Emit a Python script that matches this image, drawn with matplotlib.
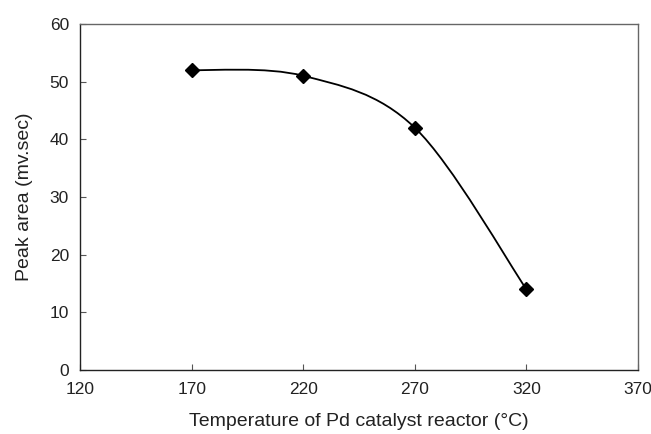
import matplotlib.pyplot as plt
import numpy as np
from matplotlib.path import Path
from matplotlib.patches import PathPatch

# Data
temperature = [170, 220, 270, 320]
peak_area = [52, 51, 42, 14]

plt.rcParams['font.family'] = ['Liberation Sans', 'DejaVu Sans']

fig = plt.figure(figsize=(6.51, 4.34), dpi=100)
ax = fig.add_axes([0.123, 0.1475, 0.857, 0.7975])

# Smoothed line (Excel-style Bezier through the points)
x = np.array(temperature, dtype=float)
y = np.array(peak_area, dtype=float)
n = len(x)
verts = [(x[0], y[0])]
codes = [Path.MOVETO]
for i in range(n - 1):
    p0 = np.array([x[max(i - 1, 0)], y[max(i - 1, 0)]])
    p1 = np.array([x[i], y[i]])
    p2 = np.array([x[i + 1], y[i + 1]])
    p3 = np.array([x[min(i + 2, n - 1)], y[min(i + 2, n - 1)]])
    c1 = p1 + (p2 - p0) / 6.0
    c2 = p2 - (p3 - p1) / 6.0
    verts += [tuple(c1), tuple(c2), tuple(p2)]
    codes += [Path.CURVE4] * 3
ax.add_patch(PathPatch(Path(verts, codes), facecolor='none', edgecolor='black', linewidth=1.3))

ax.plot(temperature, peak_area, linestyle='none', marker='D', color='black', markersize=7)

ax.set_xlim(120, 370)
ax.set_ylim(0, 60)
ax.set_xticks(np.arange(120, 371, 50))
ax.set_yticks(np.arange(0, 61, 10))
ax.tick_params(direction='in', length=4, labelsize=12.5, color='#555555', labelcolor='#222222')
ax.tick_params(axis='x', pad=9)
ax.tick_params(axis='y', pad=8)
for s in ax.spines.values():
    s.set_color('#666666')
    s.set_linewidth(1.0)
ax.spines['left'].set_color('#222222')
ax.spines['bottom'].set_color('#222222')

ax.set_xlabel("Temperature of Pd catalyst reactor (°C)", fontsize=14, labelpad=11, color='#222222')
ax.set_ylabel("Peak area (mv.sec)", fontsize=14, labelpad=12, color='#222222')

plt.savefig("out.png", dpi=100)
